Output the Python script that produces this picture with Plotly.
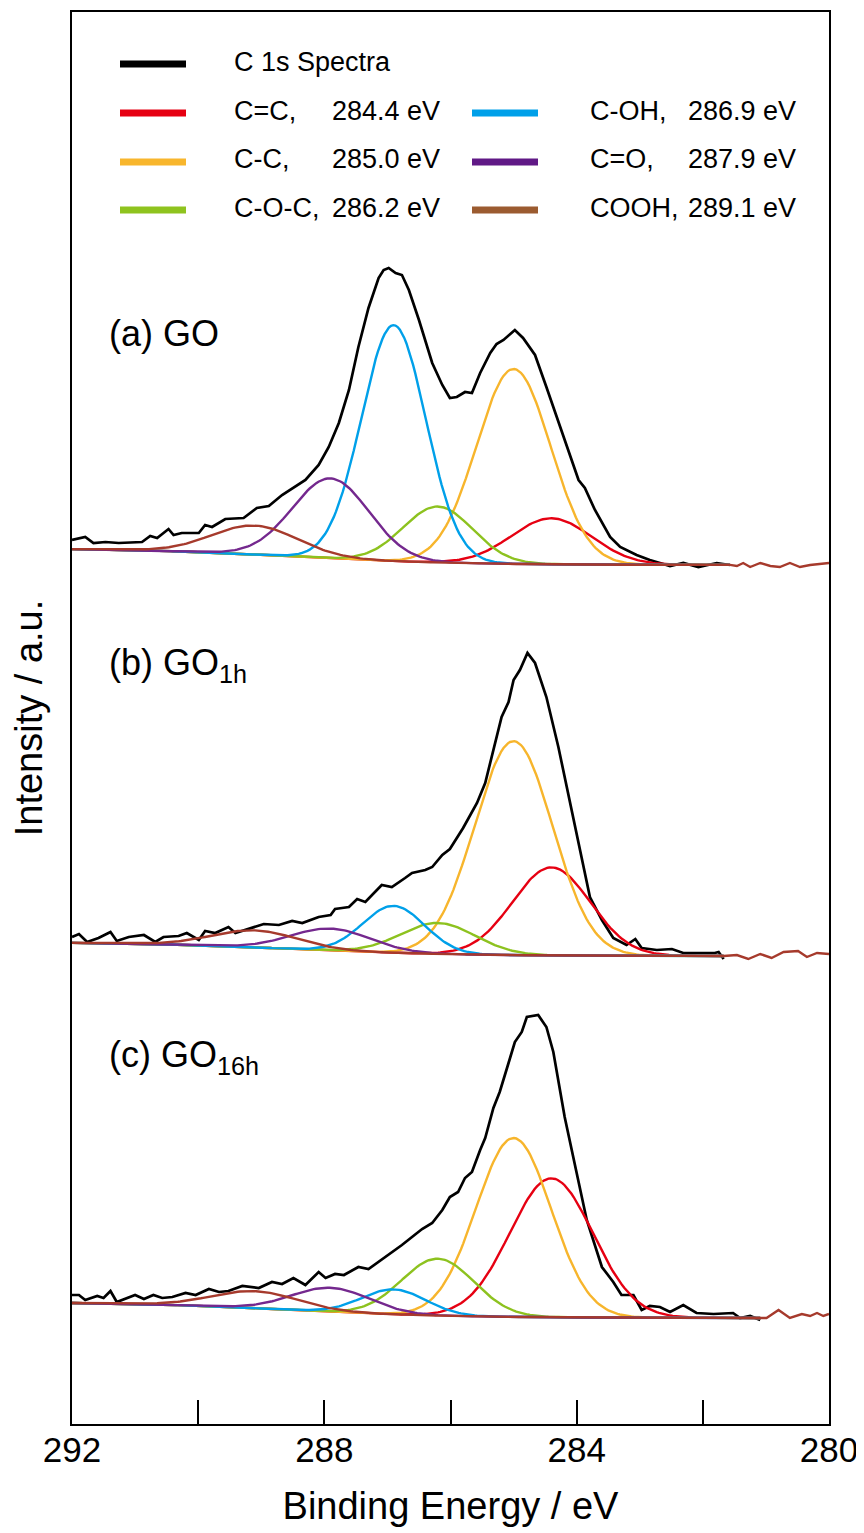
import numpy as np
import plotly.graph_objects as go

# ---------------- data ----------------
ENERGY_RANGE = [292, 280]
MAJOR_TICK_STEP = 4
MINOR_TICK_STEP = 2

PANEL_LABELS = ["(a) GO", "(b) GO<sub>1h</sub>", "(c) GO<sub>16h</sub>"]
PANEL_OFFSETS = [859, 468, 106]          # vertical stacking offsets (a.u.)

# C 1s spectra (binding energy / eV, intensity / a.u. above panel offset)
GO_E = [292.00, 291.79, 291.66, 291.47, 291.26, 290.89, 290.76, 290.65, 290.47, 290.39,
        290.26, 289.99, 289.89, 289.78, 289.57, 289.28, 289.07, 288.88, 288.67, 288.49,
        288.30, 288.09, 287.93, 287.77, 287.61, 287.46, 287.30, 287.14, 287.06, 286.98,
        286.87, 286.77, 286.66, 286.50, 286.29, 286.13, 286.01, 285.90, 285.77, 285.66,
        285.53, 285.37, 285.27, 285.16, 284.98, 284.85, 284.66, 284.48, 284.26, 284.11,
        283.97, 283.87, 283.71, 283.47, 283.31, 283.05, 282.84, 282.68, 282.52, 282.31,
        282.07, 281.78, 281.57]
GO_I = [25, 28, 22, 23, 22, 23, 29, 27, 36, 30,
        32, 32, 40, 38, 46, 47, 57, 59, 70, 77,
        85, 100, 118, 142, 175, 218, 257, 287, 295, 297,
        292, 290, 275, 245, 202, 180, 167, 168, 173, 172,
        192, 212, 221, 225, 235, 227, 210, 178, 138, 112,
        85, 77, 55, 28, 18, 10, 5, 2, -1, 2,
        -2, 2, 0]

GO1H_E = [292.00, 291.89, 291.76, 291.58, 291.39, 291.29, 291.10, 290.86, 290.68, 290.55,
          290.31, 290.18, 289.99, 289.89, 289.73, 289.52, 289.41, 289.20, 288.96, 288.72,
          288.51, 288.35, 288.09, 287.90, 287.83, 287.72, 287.61, 287.48, 287.35, 287.09,
          286.93, 286.72, 286.61, 286.40, 286.29, 286.13, 286.01, 285.80, 285.58, 285.45,
          285.32, 285.19, 285.08, 285.00, 284.90, 284.78, 284.66, 284.48, 284.29, 284.11,
          283.95, 283.79, 283.60, 283.42, 283.21, 283.07, 282.97, 282.73, 282.49, 282.31,
          282.10, 281.81, 281.75, 281.67]
GO1H_I = [19, 22, 14, 18, 24, 15, 19, 21, 14, 19,
          20, 23, 16, 25, 23, 29, 23, 27, 32, 31,
          35, 33, 39, 41, 47, 48, 49, 57, 54, 71,
          69, 78, 83, 86, 89, 101, 107, 128, 153, 173,
          206, 239, 254, 276, 286, 303, 293, 259, 209, 156,
          109, 59, 36, 18, 11, 17, 8, 6, 7, 3,
          3, 3, 4, -3]

GO16H_E = [292.00, 291.89, 291.79, 291.60, 291.50, 291.39, 291.29, 291.00, 290.86, 290.71,
           290.57, 290.41, 290.20, 290.04, 289.83, 289.67, 289.52, 289.30, 289.04, 288.83,
           288.67, 288.49, 288.30, 288.09, 287.98, 287.83, 287.69, 287.46, 287.30, 287.03,
           286.77, 286.61, 286.45, 286.29, 286.13, 286.01, 285.88, 285.77, 285.66, 285.53,
           285.45, 285.32, 285.22, 285.08, 284.98, 284.87, 284.79, 284.61, 284.48, 284.37,
           284.19, 284.00, 283.84, 283.60, 283.42, 283.29, 283.10, 282.97, 282.84, 282.68,
           282.52, 282.31, 282.10, 281.83, 281.52, 281.41, 281.25, 281.09]
GO16H_I = [23, 23, 18, 22, 20, 27, 16, 23, 19, 23,
           20, 21, 25, 23, 29, 26, 27, 32, 30, 36,
           34, 40, 33, 46, 40, 44, 43, 51, 49, 61,
           73, 81, 89, 95, 108, 121, 126, 140, 146, 168,
           180, 210, 226, 255, 276, 286, 301, 303, 291, 266,
           201, 145, 98, 51, 36, 23, 23, 8, 12, 11,
           6, 13, 5, 4, 5, 0, 2, -2]

# background trace continuing past the end of each spectrum
GO_TAIL_E = [281.46, 281.36, 281.25, 281.09, 280.93, 280.78, 280.62, 280.46, 280.30, 280.14, 280.00]
GO_TAIL_I = [-1, 2, -2, 2, -1, -2, 2, -2, 0, 1, 2]
GO1H_TAIL_E = [281.46, 281.28, 281.09, 280.91, 280.72, 280.49, 280.35, 280.19, 280.00]
GO1H_TAIL_I = [1, -3, 2, -2, 4, 5, -1, 3, 2]
GO16H_TAIL_E = [280.99, 280.80, 280.62, 280.43, 280.30, 280.19, 280.09, 280.00]
GO16H_TAIL_I = [0, 8, 0, 4, 2, 5, 2, 4]

# fitted components
COMP_NAMES = ["C=C", "C-C", "C-O-C", "C-OH", "C=O", "COOH"]
COMP_CENTERS = [284.4, 285.0, 286.2, 286.9, 287.9, 289.1]       # eV
GO_HEIGHTS = [46, 195, 56, 236, 80, 29]
GO1H_HEIGHTS = [88, 214, 31, 47, 22, 17]
GO16H_HEIGHTS = [139, 179, 57, 25, 24, 17]
GO_FWHM = [1.50, 1.38, 1.30, 1.20, 1.43, 1.60]
GO1H_FWHM = [1.45, 1.45, 1.40, 1.15, 1.48, 1.60]
GO16H_FWHM = [1.55, 1.40, 1.35, 1.20, 1.45, 1.60]

# Shirley-type background: high-BE level, step centre, step width
BASELINE_LEFT = [17, 14, 16]
BASELINE_STEP = 288.5
BASELINE_WIDTH = 1.3

# ---------------- styles / layout ----------------
SPECTRUM_COLOR = "#000000"
COMP_COLORS = ["#E60012", "#F7B52C", "#8DC21F", "#00A0E9", "#74288E", "#A63A2C"]
LEGEND_COLORS = ["#E60012", "#F8B62D", "#8FC31F", "#00A0E9", "#601986", "#9B5B30"]
FONT = "Liberation Sans, Arial, sans-serif"

PAGE_PAD = 8                       # default body margin of the html page
W, H = 864 - PAGE_PAD, 1533 - PAGE_PAD
PLOT_X0, PLOT_X1, PLOT_Y0, PLOT_Y1 = 72, 829, 12, 1424   # plot box on screen
L = PLOT_X0 - PAGE_PAD
T = PLOT_Y0 - PAGE_PAD
R = PAGE_PAD + W - PLOT_X1
B = PAGE_PAD + H - PLOT_Y1
PW, PH = PLOT_X1 - PLOT_X0, PLOT_Y1 - PLOT_Y0


def px2paper(px, py):
    return (px - PLOT_X0) / PW, (PLOT_Y1 - py) / PH


spectra = [(GO_E, GO_I), (GO1H_E, GO1H_I), (GO16H_E, GO16H_I)]
tails = [(GO_TAIL_E, GO_TAIL_I), (GO1H_TAIL_E, GO1H_TAIL_I), (GO16H_TAIL_E, GO16H_TAIL_I)]
heights = [GO_HEIGHTS, GO1H_HEIGHTS, GO16H_HEIGHTS]
fwhms = [GO_FWHM, GO1H_FWHM, GO16H_FWHM]

fig = go.Figure()

for p in range(3):
    off = PANEL_OFFSETS[p]
    E, I = spectra[p]
    fig.add_trace(go.Scatter(x=E, y=[v + off for v in I], mode="lines",
                             line=dict(color=SPECTRUM_COLOR, width=2.7),
                             name="C 1s Spectra", showlegend=False))
    grid = np.linspace(292, E[-1], 300)
    base = BASELINE_LEFT[p] / (1 + np.exp(-(grid - BASELINE_STEP) / BASELINE_WIDTH))
    for k in range(6):
        g = heights[p][k] * np.exp(-4 * np.log(2) * (grid - COMP_CENTERS[k]) ** 2 / fwhms[p][k] ** 2)
        xs = list(grid)
        ys = list(base + g + off)
        if k == 5:
            te, ti = tails[p]
            xs += te
            ys += [v + off for v in ti]
        fig.add_trace(go.Scatter(x=xs, y=ys, mode="lines",
                                 line=dict(color=COMP_COLORS[k], width=2.4),
                                 name=COMP_NAMES[k], showlegend=False))

# panel labels
PANEL_LABEL_Y = [333, 665, 1057]   # screen px centres
for p in range(3):
    lx, ly = px2paper(107, PANEL_LABEL_Y[p])
    fig.add_annotation(xref="paper", yref="paper", x=lx, y=ly,
                       text=PANEL_LABELS[p], showarrow=False, xanchor="left", yanchor="middle",
                       font=dict(family=FONT, size=36, color="black"))

# manual legend (two columns)
LINE_ROWS = [64, 113, 162, 210]
TEXT_ROWS = [62, 111, 159, 208]
legend_items = [(0, 0, "C 1s Spectra", None, SPECTRUM_COLOR)]
for k in range(3):
    legend_items.append((k + 1, 0, COMP_NAMES[k] + ",", f"{COMP_CENTERS[k]:.1f} eV", LEGEND_COLORS[k]))
for k in range(3, 6):
    legend_items.append((k - 2, 1, COMP_NAMES[k] + ",", f"{COMP_CENTERS[k]:.1f} eV", LEGEND_COLORS[k]))

col_line = [(120, 186), (472, 538)]
col_name = [232, 588]
col_value = [330, 686]
for row, col, name, val, color in legend_items:
    x0, y0 = px2paper(col_line[col][0], LINE_ROWS[row])
    x1, _ = px2paper(col_line[col][1], LINE_ROWS[row])
    fig.add_shape(type="line", xref="paper", yref="paper", x0=x0, x1=x1, y0=y0, y1=y0,
                  line=dict(color=color, width=7))
    tx, ty = px2paper(col_name[col], TEXT_ROWS[row])
    fig.add_annotation(xref="paper", yref="paper", x=tx, y=ty, text=name, showarrow=False,
                       xanchor="left", yanchor="middle", font=dict(family=FONT, size=27, color="black"))
    if val:
        vx, _ = px2paper(col_value[col], TEXT_ROWS[row])
        fig.add_annotation(xref="paper", yref="paper", x=vx, y=ty, text=val, showarrow=False,
                           xanchor="left", yanchor="middle", font=dict(family=FONT, size=27, color="black"))

fig.update_layout(
    width=W, height=H,
    margin=dict(l=L, r=R, t=T, b=B, autoexpand=False),
    paper_bgcolor="white", plot_bgcolor="white",
    showlegend=False,
    font=dict(family=FONT, color="black"),
)
fig.update_xaxes(range=ENERGY_RANGE, tick0=280, dtick=MAJOR_TICK_STEP,
                 ticks="inside", ticklen=24, tickwidth=2, tickcolor="black",
                 minor=dict(dtick=MINOR_TICK_STEP, tick0=280, ticks="inside", ticklen=24,
                            tickwidth=2, tickcolor="black", showgrid=False),
                 ticklabelstandoff=-6, ticklabeloverflow="allow",
                 showline=True, linecolor="black", linewidth=2, mirror=True,
                 showgrid=False, zeroline=False, automargin=False,
                 tickfont=dict(family=FONT, size=35, color="black"),
                 title=dict(text="Binding Energy / eV", font=dict(family=FONT, size=38, color="black"),
                            standoff=24))
fig.update_yaxes(range=[0, PH], showticklabels=False, ticks="",
                 showline=True, linecolor="black", linewidth=2, mirror=True,
                 showgrid=False, zeroline=False, automargin=False,
                 title=dict(text="Intensity / a.u.", font=dict(family=FONT, size=38, color="black"),
                            standoff=18))

fig.write_html("out.html")
